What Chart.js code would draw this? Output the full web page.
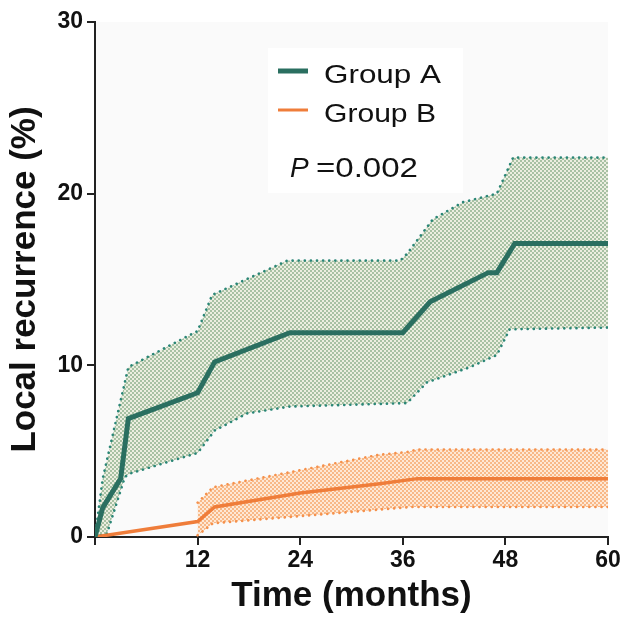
<!DOCTYPE html>
<html>
<head>
<meta charset="utf-8">
<script src="https://cdn.jsdelivr.net/npm/chart.js@4.4.0/dist/chart.umd.min.js"></script>
<style>
  html, body { margin: 0; padding: 0; background: #fff; }
  #wrap { width: 623px; height: 621px; }
</style>
</head>
<body>
<div id="wrap"><canvas id="recur"></canvas></div>
<script>
// months / cumulative local recurrence (%)
var monthsA = [0, 0.9, 3.0, 3.9, 12.0, 14.0, 22.8, 36.0, 39.2, 46.0, 47.0, 49.1, 60];
var groupA  = [0, 1.7, 3.4, 6.9, 8.4, 10.2, 11.9, 11.9, 13.7, 15.4, 15.4, 17.1, 17.1];
var upperAx = [0, 0.9, 3.9, 12.0, 13.7, 22.5, 35.7, 36.5, 39.5, 43.0, 47.0, 48.9, 60];
var upperA  = [0, 3.4, 9.9, 12.0, 14.1, 16.1, 16.1, 16.5, 18.5, 19.5, 20.0, 22.1, 22.1];
var lowerAx = [0, 1.4, 3.5, 4.1, 12.0, 14.0, 17.8, 22.8, 36.5, 38.8, 43.9, 47.0, 48.5, 60];
var lowerA  = [0, 0.2, 3.5, 3.7, 4.9, 6.2, 7.2, 7.6, 7.8, 9.0, 9.9, 10.6, 12.1, 12.2];

var monthsB = [0, 12.0, 14.0, 24.0, 33.3, 37.7, 60];
var groupB  = [0, 0.9, 1.75, 2.56, 3.1, 3.4, 3.4];
var upperBx = [12.0, 12.3, 13.8, 33.3, 36.5, 37.7, 60];
var upperB  = [2.0, 2.15, 2.9, 4.8, 4.95, 5.1, 5.1];
var lowerBx = [12.0, 13.8, 33.3, 37.0, 60];
var lowerB  = [0.1, 0.8, 1.6, 1.75, 1.75];

var xTicks = [0, 12, 24, 36, 48, 60];
var yTicks = [0, 10, 20, 30];
var seriesNames = ["Group A", "Group B"];
var pText = "=0.002";

var colA = "#2a6f60";
var colB = "#ef7d3a";

function pts(xs, ys) {
    return xs.map(function (x, i) { return { x: x, y: ys[i] }; });
}

// checker texture like the printed CI bands
function checker(c1, c2) {
    var cv = document.createElement("canvas");
    cv.width = 4; cv.height = 4;
    var g = cv.getContext("2d");
    g.fillStyle = c2; g.fillRect(0, 0, 4, 4);
    g.fillStyle = c1;
    g.fillRect(0, 0, 2, 2);
    g.fillRect(2, 2, 2, 2);
    return g.createPattern(cv, "repeat");
}
var fillA = checker("#a7c1a3", "#eceee0");
var fillB = checker("#f8b887", "#fee8d5");

function fitText(ctx, txt, x, y, w) {
    var m = ctx.measureText(txt).width;
    ctx.save();
    ctx.translate(x, y);
    ctx.scale(w / m, 1);
    ctx.fillText(txt, 0, 0);
    ctx.restore();
}

var legendBox = {
    id: "legendBox",
    beforeDraw: function (chart) {
        var ctx = chart.ctx, a = chart.chartArea;
        ctx.save();
        ctx.fillStyle = "#fafafa";
        ctx.fillRect(a.left, a.top, a.right - a.left, a.bottom - a.top);
        ctx.fillStyle = "#ffffff";
        ctx.fillRect(268, 48, 195, 145);
        ctx.restore();
    },
    afterDraw: function (chart) {
        var ctx = chart.ctx;
        ctx.save();
        ctx.lineCap = "butt";
        ctx.strokeStyle = colA; ctx.lineWidth = 5;
        ctx.beginPath(); ctx.moveTo(278, 71); ctx.lineTo(308, 71); ctx.stroke();
        ctx.strokeStyle = colB; ctx.lineWidth = 3;
        ctx.beginPath(); ctx.moveTo(278, 110); ctx.lineTo(308, 110); ctx.stroke();
        ctx.fillStyle = "#111";
        ctx.textBaseline = "alphabetic";
        ctx.font = "25px 'Liberation Sans', Arial, sans-serif";
        fitText(ctx, seriesNames[0], 324, 83, 117);
        fitText(ctx, seriesNames[1], 324, 122, 112);
        ctx.font = "italic 28px 'Liberation Sans', Arial, sans-serif";
        ctx.fillText("P", 290, 177);
        ctx.font = "28px 'Liberation Sans', Arial, sans-serif";
        fitText(ctx, pText, 316, 177, 102);
        ctx.restore();
    }
};

var band = function (data, fill, col, target) {
    return {
        data: data,
        borderColor: col,
        borderWidth: 2.6,
        borderDash: [0.1, 6],
        borderCapStyle: "round",
        backgroundColor: fill,
        fill: target,
        pointRadius: 0,
        tension: 0
    };
};

var tickFont = { family: "'Liberation Sans', Arial, sans-serif", size: 23, weight: "bold" };

// chart.js paints dataset 0 last, so the two curves go first
new Chart(document.getElementById("recur"), {
    type: "line",
    data: {
        datasets: [
            {
                label: seriesNames[0],
                data: pts(monthsA, groupA),
                borderColor: colA,
                borderWidth: 5,
                borderJoinStyle: "miter",
                pointRadius: 0,
                fill: false,
                tension: 0
            },
            {
                label: seriesNames[1],
                data: pts(monthsB, groupB),
                borderColor: colB,
                borderWidth: 3.5,
                pointRadius: 0,
                fill: false,
                tension: 0
            },
            band(pts(lowerAx, lowerA), fillA, "#2a8676", false),
            band(pts(upperAx, upperA), fillA, "#2a8676", "-1"),
            band(pts(lowerBx, lowerB), fillB, "#f5914c", false),
            band(pts(upperBx, upperB), fillB, "#f5914c", "-1")
        ]
    },
    options: {
        responsive: true,
        maintainAspectRatio: false,
        animation: false,
        layout: { padding: { top: 22, right: 15, left: 0, bottom: 0 } },
        plugins: {
            legend: { display: false },
            tooltip: { enabled: false }
        },
        scales: {
            x: {
                type: "linear",
                min: 0, max: 60,
                afterBuildTicks: function (s) { s.ticks = xTicks.map(function (v) { return { value: v }; }); },
                afterFit: function (s) { s.height = 84; },
                ticks: {
                    color: "#111",
                    font: tickFont,
                    padding: 2,
                    maxRotation: 0,
                    callback: function (v) { return v === 0 ? "" : v; }
                },
                grid: { drawOnChartArea: false, drawTicks: true, tickLength: 8, color: "#222", lineWidth: 2 },
                border: { color: "#222", width: 2 },
                title: {
                    display: true,
                    text: "Time (months)",
                    color: "#111",
                    font: { family: "'Liberation Sans', Arial, sans-serif", size: 35, weight: "bold" },
                    padding: { top: 0 }
                }
            },
            y: {
                min: 0, max: 30,
                afterBuildTicks: function (s) { s.ticks = yTicks.map(function (v) { return { value: v }; }); },
                afterFit: function (s) { s.width = 95; },
                ticks: {
                    color: "#111",
                    font: tickFont,
                    padding: 4
                },
                grid: { drawOnChartArea: false, drawTicks: true, tickLength: 8, color: "#222", lineWidth: 2 },
                border: { color: "#222", width: 2 },
                title: {
                    display: true,
                    text: "Local recurrence (%)",
                    color: "#111",
                    font: { family: "'Liberation Sans', Arial, sans-serif", size: 35, weight: "bold" },
                    padding: { bottom: 0 }
                }
            }
        }
    },
    plugins: [legendBox]
});
</script>
</body>
</html>
